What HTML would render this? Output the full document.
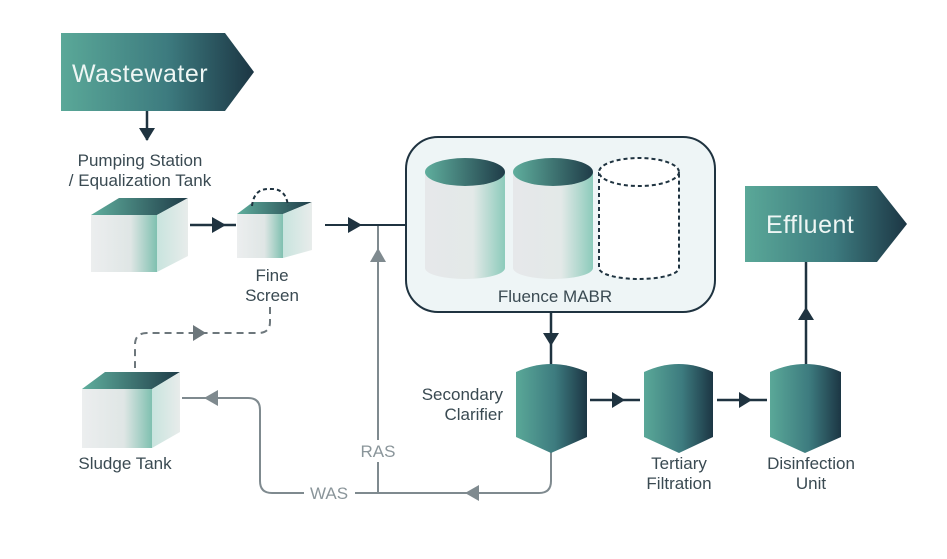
<!DOCTYPE html>
<html><head><meta charset="utf-8"><style>
html,body{margin:0;padding:0;background:#fff;}
svg{display:block;font-family:"Liberation Sans",sans-serif;}
</style></head><body>
<svg width="947" height="559" viewBox="0 0 947 559" xmlns="http://www.w3.org/2000/svg">
<defs>
<linearGradient id="tg" x1="0" y1="0" x2="1" y2="0">
<stop offset="0" stop-color="#5aa898"/><stop offset="0.55" stop-color="#3d7b7f"/><stop offset="1" stop-color="#1c3644"/>
</linearGradient>
<linearGradient id="top" x1="0" y1="0" x2="1" y2="0">
<stop offset="0" stop-color="#5fae9d"/><stop offset="1" stop-color="#1f3c48"/>
</linearGradient>
<linearGradient id="front" x1="0" y1="0" x2="1" y2="0">
<stop offset="0" stop-color="#eceeef"/><stop offset="0.6" stop-color="#dfe6e5"/><stop offset="1" stop-color="#7fc0b0"/>
</linearGradient>
<linearGradient id="side" x1="0" y1="0" x2="1" y2="0">
<stop offset="0" stop-color="#c8e4de"/><stop offset="1" stop-color="#e8eceb"/>
</linearGradient>
<linearGradient id="cyl" x1="0" y1="0" x2="1" y2="0">
<stop offset="0" stop-color="#e6e8ea"/><stop offset="0.6" stop-color="#e3e9e8"/><stop offset="1" stop-color="#8ccbbb"/>
</linearGradient>
</defs>

<polygon points="61,33 225,33 254,72 225,111 61,111" fill="url(#tg)"/>
<text x="72" y="82" font-size="25" fill="#eef6f4" letter-spacing="0.5">Wastewater</text>
<line x1="147" y1="111" x2="147" y2="140" stroke="#1f3340" stroke-width="2.5"/>
<polygon points="139,128 155,128 147,141" fill="#1f3340"/>
<text x="140" y="166" font-size="17" fill="#3a4a52" text-anchor="middle">Pumping Station</text>
<text x="140" y="186" font-size="17" fill="#3a4a52" text-anchor="middle">/ Equalization Tank</text>

<polygon points="91,215 119,198 188,198 157,215" fill="url(#top)"/>
<polygon points="157,215 188,198 188,256 157,272" fill="url(#side)"/>
<rect x="91" y="215" width="66" height="57" fill="url(#front)"/>
<line x1="190" y1="225" x2="236" y2="225" stroke="#1f3340" stroke-width="2.5"/>
<polygon points="212,217 212,233 226,225" fill="#1f3340"/>

<polygon points="237,214 253,202 312,202 283,214" fill="url(#top)"/>
<polygon points="283,214 312,202 312,250 283,258" fill="url(#side)"/>
<rect x="237" y="214" width="46" height="44" fill="url(#front)"/>
<path d="M252,206 Q254,188 270,189 Q286,188 288,206" fill="none" stroke="#1f3340" stroke-width="2" stroke-dasharray="4,3"/>
<text x="272" y="281" font-size="17" fill="#3a4a52" text-anchor="middle">Fine</text>
<text x="272" y="301" font-size="17" fill="#3a4a52" text-anchor="middle">Screen</text>

<path d="M270,307 L270,322 Q270,333 258,333 L147,333 Q135,333 135,345 L135,368" fill="none" stroke="#6d777c" stroke-width="2" stroke-dasharray="7,5"/>
<polygon points="193,325 193,341 206,333" fill="#6d777c"/>

<line x1="325" y1="225" x2="407" y2="225" stroke="#1f3340" stroke-width="2"/>
<polygon points="348,217 348,233 362,225" fill="#1f3340"/>

<line x1="378" y1="226" x2="378" y2="440" stroke="#7f8a8f" stroke-width="2"/>
<line x1="378" y1="462" x2="378" y2="493" stroke="#7f8a8f" stroke-width="2"/>
<polygon points="370,262 386,262 378,248" fill="#7f8a8f"/>
<text x="378" y="457" font-size="17" fill="#8a959a" text-anchor="middle">RAS</text>

<path d="M551,452 L551,481 Q551,493 539,493 L355,493" fill="none" stroke="#7f8a8f" stroke-width="2"/>
<path d="M304,493 L272,493 Q260,493 260,481 L260,410 Q260,398 248,398 L182,398" fill="none" stroke="#7f8a8f" stroke-width="2"/>
<polygon points="479,485 479,501 465,493" fill="#7f8a8f"/>
<polygon points="218,390 218,406 204,398" fill="#7f8a8f"/>
<text x="329" y="499" font-size="17" fill="#8a959a" text-anchor="middle">WAS</text>

<polygon points="82,389 105,372 180,372 152,389" fill="url(#top)"/>
<polygon points="152,389 180,372 180,432 152,448" fill="url(#side)"/>
<rect x="82" y="389" width="70" height="59" fill="url(#front)"/>
<text x="125" y="469" font-size="17" fill="#3a4a52" text-anchor="middle">Sludge Tank</text>

<rect x="406" y="137" width="309" height="175" rx="32" fill="#eef5f6" stroke="#1f3340" stroke-width="2"/>
<path d="M425,172 L425,268 A40,11 0 0 0 505,268 L505,172 Z" fill="url(#cyl)"/>
<ellipse cx="465" cy="172" rx="40" ry="14" fill="url(#top)"/>
<path d="M513,172 L513,268 A40,11 0 0 0 593,268 L593,172 Z" fill="url(#cyl)"/>
<ellipse cx="553" cy="172" rx="40" ry="14" fill="url(#top)"/>
<path d="M599,172 L599,268 A40,11 0 0 0 679,268 L679,172" fill="#fff" stroke="#1f3340" stroke-width="2" stroke-dasharray="4,3"/>
<ellipse cx="639" cy="172" rx="40" ry="14" fill="#fff" stroke="#1f3340" stroke-width="2" stroke-dasharray="4,3"/>
<text x="555" y="302" font-size="17" fill="#3a4a52" text-anchor="middle">Fluence MABR</text>

<line x1="551" y1="312" x2="551" y2="366" stroke="#1f3340" stroke-width="2.5"/>
<polygon points="543,333 559,333 551,346" fill="#1f3340"/>

<path d="M516,372 Q551,356 587,372 L587,437 L551,453 L516,437 Z" fill="url(#tg)"/>
<path d="M644,372 Q679,356 713,372 L713,437 L679,453 L644,437 Z" fill="url(#tg)"/>
<path d="M770,372 Q805,356 841,372 L841,437 L805,453 L770,437 Z" fill="url(#tg)"/>
<text x="503" y="400" font-size="17" fill="#3a4a52" text-anchor="end">Secondary</text>
<text x="503" y="420" font-size="17" fill="#3a4a52" text-anchor="end">Clarifier</text>
<line x1="590" y1="400" x2="640" y2="400" stroke="#1f3340" stroke-width="2.5"/>
<polygon points="612,392 612,408 625,400" fill="#1f3340"/>
<line x1="717" y1="400" x2="767" y2="400" stroke="#1f3340" stroke-width="2.5"/>
<polygon points="739,392 739,408 752,400" fill="#1f3340"/>
<text x="679" y="469" font-size="17" fill="#3a4a52" text-anchor="middle">Tertiary</text>
<text x="679" y="489" font-size="17" fill="#3a4a52" text-anchor="middle">Filtration</text>
<text x="811" y="469" font-size="17" fill="#3a4a52" text-anchor="middle">Disinfection</text>
<text x="811" y="489" font-size="17" fill="#3a4a52" text-anchor="middle">Unit</text>

<line x1="806" y1="262" x2="806" y2="364" stroke="#1f3340" stroke-width="2.5"/>
<polygon points="798,320 814,320 806,307" fill="#1f3340"/>
<polygon points="745,186 877,186 907,224 877,262 745,262" fill="url(#tg)"/>
<text x="766" y="233" font-size="25" fill="#eef6f4" letter-spacing="0.5">Effluent</text>
</svg>
</body></html>
